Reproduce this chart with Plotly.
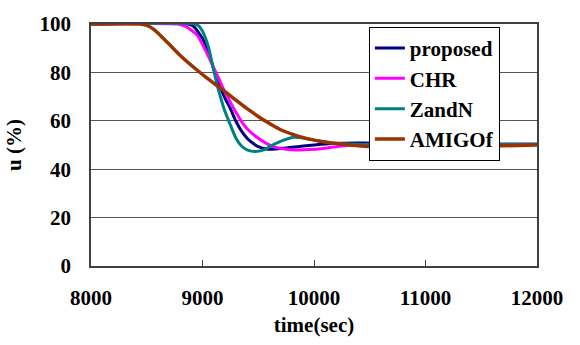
import plotly.graph_objects as go
import plotly.io as pio

# Controller output u (%) after a setpoint change, four tuning rules
t_proposed = [8000, 8870, 8920, 9000, 9050, 9100, 9150, 9200, 9250, 9300, 9350, 9400, 9450,
              9500, 9575, 9650, 9750, 9850, 10000, 10150, 10450, 10700, 11000, 12000]
u_proposed = [100, 100, 99, 94, 88.5, 81.5, 75, 69.5, 65, 59.8, 55.7, 52.8, 50.8,
              49.3, 48.3, 48.3, 48.8, 49.3, 50, 50.6, 50.8, 50.5, 50.3, 50.3]

t_chr = [8000, 8780, 8850, 8950, 9050, 9100, 9150, 9200, 9250, 9300, 9366, 9420, 9485,
         9550, 9635, 9750, 9850, 9950, 10083, 10200, 10300, 10500, 11000, 12000]
u_chr = [100, 100, 99, 95.5, 87, 82, 77, 72, 67.7, 63.5, 58.6, 55.8, 53.3,
         51.3, 49.3, 48.2, 47.9, 48.1, 48.6, 49.3, 49.9, 50.3, 50.3, 50.3]

t_zn = [8000, 8933, 8970, 9000, 9050, 9100, 9130, 9160, 9200, 9250, 9300, 9350, 9400,
        9470, 9550, 9650, 9815, 9920, 10022, 10233, 10450, 10700, 11000, 12000]
u_zn = [100, 100, 99, 97, 91, 81, 75, 70, 64, 58.3, 52.8, 49.6, 48,
        47.3, 48, 50.5, 53.2, 52.8, 51.9, 50.6, 50.2, 50.2, 50.3, 50.3]

t_amigo = [8000, 8440, 8500, 8550, 8600, 8650, 8700, 8800, 8950, 9050, 9130, 9200, 9300,
           9400, 9500, 9560, 9700, 9850, 10000, 10150, 10300, 10450, 10600, 11000, 11300,
           11600, 12000]
u_amigo = [100, 100, 99.4, 98.2, 96.3, 94, 91.7, 87, 81, 77.3, 74.5, 72.2, 68.5,
           65, 61.8, 60, 56.3, 53.8, 52, 50.8, 50.1, 49.5, 49.1, 49.1, 49.3,
           49.6, 50]

series = [
    ("proposed", t_proposed, u_proposed, "#000080", 3),
    ("CHR", t_chr, u_chr, "#FF00FF", 3),
    ("ZandN", t_zn, u_zn, "#008080", 3),
    ("AMIGOf", t_amigo, u_amigo, "#993300", 3.5),
]

x_ticks = [8000, 9000, 10000, 11000, 12000]
y_ticks = [0, 20, 40, 60, 80, 100]

# Base template: black text on white background
tmpl = go.layout.Template(pio.templates["plotly"])
tmpl.layout.font.color = "#000000"
tmpl.layout.paper_bgcolor = "white"
tmpl.layout.plot_bgcolor = "white"


def bold_font(size=21):
    return dict(family="Liberation Serif", size=size, weight="bold")


fig = go.Figure()
for name, t, u, color, w in series:
    fig.add_trace(go.Scatter(
        x=t, y=u, name=name, mode="lines",
        line=dict(color=color, width=w, shape="spline", smoothing=0.6),
    ))

fig.update_layout(
    template=tmpl,
    width=580, height=345,
    margin=dict(l=91, r=43, t=16, b=78),
    showlegend=True,
    legend=dict(
        x=0.623, y=0.988, xanchor="left", yanchor="top",
        bgcolor="white", bordercolor="black", borderwidth=1,
        font=bold_font(21),
        tracegroupgap=0, itemwidth=30,
    ),
)

fig.update_xaxes(
    range=[8000, 12000], tickvals=x_ticks, ticktext=[str(v) for v in x_ticks],
    showgrid=False, zeroline=False,
    showline=True, mirror=True, linecolor="#404040", linewidth=1.5,
    ticks="inside", ticklen=6, tickcolor="#404040", tickwidth=1,
    ticklabelstandoff=12,
    tickfont=bold_font(21),
    title=dict(text="time(sec)", standoff=8, font=bold_font(21)),
)

fig.update_yaxes(
    range=[0, 100], tickvals=y_ticks, ticktext=[str(v) for v in y_ticks],
    showgrid=True, gridcolor="#555555", gridwidth=1.2, zeroline=False,
    showline=True, mirror=True, linecolor="#404040", linewidth=1.5,
    ticks="", ticklabelstandoff=14,
    tickfont=bold_font(21),
    title=dict(text="u (%)", standoff=12, font=bold_font(21)),
)

fig.write_html("out.html")
